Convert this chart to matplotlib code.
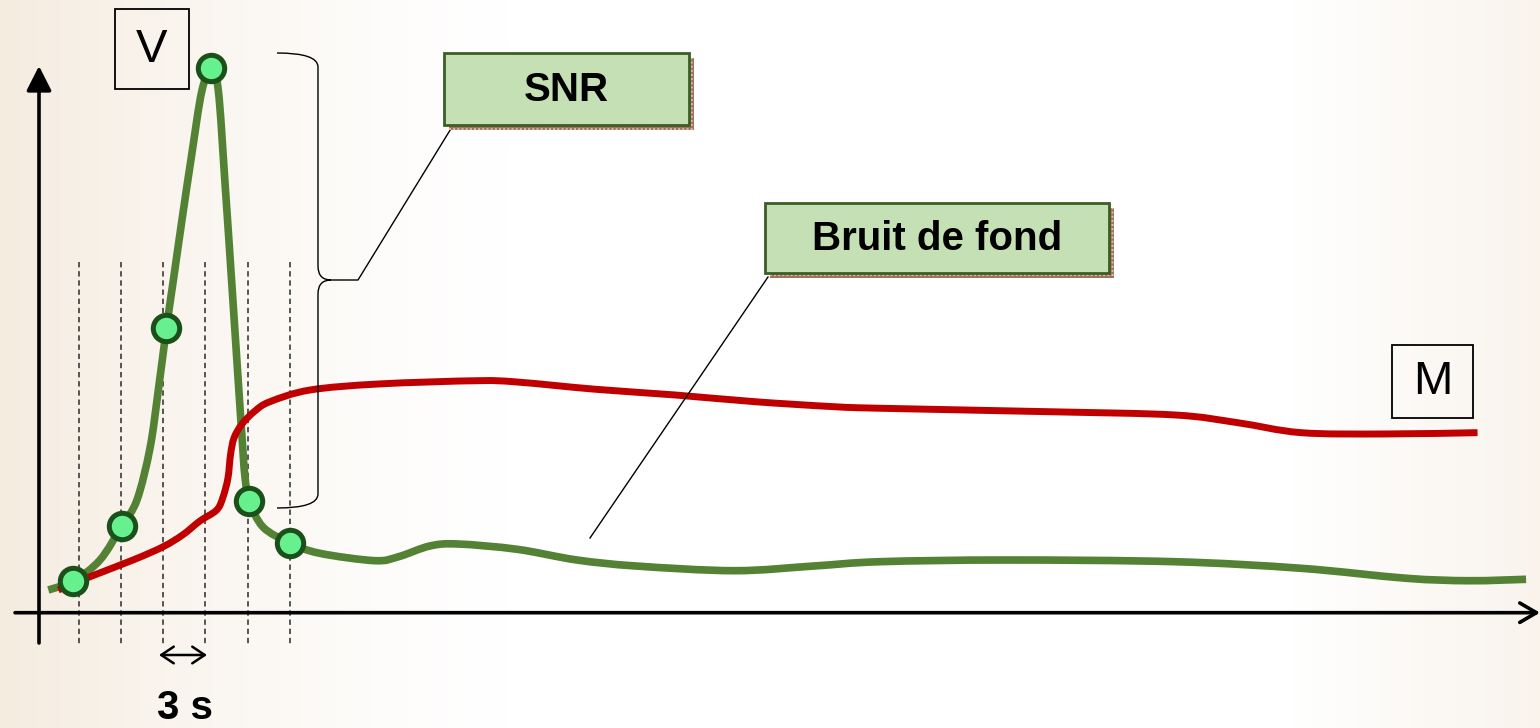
import numpy as np
import matplotlib
matplotlib.use('Agg')
import matplotlib.pyplot as plt
from matplotlib.path import Path
from matplotlib.patches import PathPatch, Rectangle

plt.rcParams['font.family'] = ['Liberation Sans', 'DejaVu Sans']

# Courbe V (vaisseau) : temps en s, amplitude en u.a. (pic = 100)
t_vert = [0.84, 2.62, 4.51, 6.06, 7.14, 8.07, 8.66, 9.24, 9.73, 10.32, 11.03, 11.74,
          12.41, 12.92, 13.40, 13.88, 14.35, 14.59, 14.82, 15.14, 16.10, 18.02, 20.12,
          24.06, 25.74, 27.97, 29.96, 34.16, 38.40, 42.62, 49.63, 55.26, 59.96, 68.92,
          80.91, 89.89, 97.36, 101.83, 105.89]
y_vert = [4.17, 5.82, 9.67, 15.91, 20.69, 30.24, 40.88, 52.27, 61.08, 71.73, 84.04, 95.60,
          100.0, 95.96, 78.89, 60.53, 42.17, 32.99, 24.91, 20.51, 15.73, 12.80, 10.91,
          9.55, 10.28, 12.25, 12.61, 11.64, 9.68, 8.57, 7.71, 8.57, 9.36, 9.67,
          9.36, 8.15, 6.32, 5.87, 6.13]

# Courbe M (myocarde)
t_rouge = [1.55, 3.57, 6.86, 9.01, 10.41, 11.62, 12.81, 13.26, 13.61, 13.79, 14.04, 14.61,
           15.53, 16.60, 19.44, 24.34, 31.36, 34.16, 39.77, 45.39, 51.04, 56.67, 59.96,
           71.90, 80.91, 85.39, 89.89, 95.86, 102.44]
y_rouge = [4.17, 6.37, 9.67, 12.12, 14.32, 16.84, 18.85, 21.24, 24.73, 28.95, 32.07, 34.64,
           37.03, 38.74, 40.88, 41.99, 42.59, 42.35, 41.01, 39.97, 38.74, 37.82, 37.53,
           36.90, 36.30, 34.88, 33.05, 32.81, 33.05]

# points d'acquisition
t_mesure = [2.62, 6.06, 9.24, 12.41, 15.14, 18.02]
y_mesure = [5.82, 15.91, 52.27, 100.0, 20.51, 12.80]
t_coupes = [3, 6, 9, 12, 15, 18]


def courbe(t, y):
    # spline de Catmull-Rom tracee en segments de Bezier
    pts = np.column_stack([t, y])
    n = len(pts)
    verts = [pts[0]]
    codes = [Path.MOVETO]
    for i in range(n - 1):
        p0 = pts[max(i - 1, 0)]
        p1 = pts[i]
        p2 = pts[i + 1]
        p3 = pts[min(i + 2, n - 1)]
        verts += [p1 + (p2 - p0) / 6, p2 - (p3 - p1) / 6, p2]
        codes += [Path.CURVE4] * 3
    return Path(verts, codes)


fig = plt.figure(figsize=(15.4, 7.28), dpi=100)

# fond en degrade
fond = fig.add_axes([0, 0, 1, 1])
fond.set_xlim(0, 1540)
fond.set_ylim(728, 0)
fond.axis('off')
xs = np.linspace(0, 1, 400)
w = np.clip(1 - xs / 0.33, 0, 1) ** 1.4 + np.clip((xs - 0.84) / 0.16, 0, 1) * 0.6
beige = np.array([245, 236, 224]) / 255
img = 1 - w[:, None] * (1 - beige[None, :])
fond.imshow(img[None, :, :], extent=(0, 1540, 728, 0), aspect='auto')

ax = fig.add_axes([0, 0, 1, 1])
ax.set_xlim(-2.595, 106.88)
ax.set_ylim(-21.17, 112.48)
ax.axis('off')
px = fond.transData

# axes
ax.annotate('', xy=(39, 66), xytext=(39, 643), xycoords=px, textcoords=px,
            arrowprops=dict(arrowstyle='-|>,head_length=0.75,head_width=0.38', lw=2.6,
                            color='black', mutation_scale=20, shrinkA=0, shrinkB=0))
ax.annotate('', xy=(1540, 612.7), xytext=(15, 612.7), xycoords=px, textcoords=px,
            arrowprops=dict(arrowstyle='->,head_length=0.6,head_width=0.35', lw=2.6,
                            color='black', mutation_scale=20, shrinkA=0, shrinkB=0))

# coupes
for tc in t_coupes:
    ax.plot([tc, tc], [64.4, -6.2], ls=(0, (3.5, 2.5)), lw=1.1, color='#2a2a2a', zorder=2)

ax.add_patch(PathPatch(courbe(t_vert, y_vert), fill=False, ec='#548235', lw=5.5,
                       capstyle='butt', joinstyle='round', zorder=3))
ax.add_patch(PathPatch(courbe(t_rouge, y_rouge), fill=False, ec='#c00000', lw=5.0,
                       capstyle='butt', joinstyle='round', zorder=4))
ax.plot(t_mesure, y_mesure, 'o', ms=19, mfc='#66f08e', mec='#1b501b', mew=3.6, zorder=5)

# 3 s
ax.annotate('', xy=(207, 655), xytext=(159, 655), xycoords=px, textcoords=px,
            arrowprops=dict(arrowstyle='<->,head_length=0.45,head_width=0.3', lw=1.8,
                            color='black', mutation_scale=20, shrinkA=0, shrinkB=0))
ax.text(185, 708, '3 s', transform=px, fontsize=29, fontweight='bold',
        ha='center', va='center')

# etiquettes V et M
for (x0, y0, x1, y1, lab) in [(115, 9, 189, 89, 'V'), (1392, 345, 1473, 418, 'M')]:
    ax.add_patch(Rectangle((x0, y0), x1 - x0, y1 - y0, transform=px, fill=False,
                           ec='black', lw=1.3, zorder=6))
    ax.text((x0 + x1) / 2, (y0 + y1) / 2 + 1, lab, transform=px, fontsize=34,
            ha='center', va='center', zorder=7)

# accolade SNR
acc = Path([(277, 53), (318, 53), (318, 67), (318, 266), (318, 280), (331, 280),
            (318, 280), (318, 294), (318, 494), (318, 508), (277, 508)],
           [Path.MOVETO, Path.CURVE3, Path.CURVE3, Path.LINETO, Path.CURVE3, Path.CURVE3,
            Path.CURVE3, Path.CURVE3, Path.LINETO, Path.CURVE3, Path.CURVE3])
ax.add_patch(PathPatch(acc, transform=px, fill=False, ec='black', lw=1.0, zorder=6))
ax.plot([331, 358, 452], [280, 280, 127], transform=px, color='black', lw=1.0, zorder=6)
ax.plot([768, 590], [277, 538], transform=px, color='black', lw=1.0, zorder=6)

# boites
plt.rcParams['hatch.linewidth'] = 1.5
for (x0, y0, x1, y1, lab) in [(444, 53, 689, 125, 'SNR'),
                              (765, 203, 1109, 273, 'Bruit de fond')]:
    ax.add_patch(Rectangle((x0 + 5, y0 + 5), x1 - x0, y1 - y0, transform=px,
                           fc='#dcbcae', ec='#a5705c', hatch='++++', lw=0, zorder=6))
    ax.add_patch(Rectangle((x0, y0), x1 - x0, y1 - y0, transform=px, fc='#c5e0b4',
                           ec='#3a5e25', lw=2.0, zorder=7))
    ax.text((x0 + x1) / 2, (y0 + y1) / 2 + 1, lab, transform=px, fontsize=29,
            fontweight='bold', ha='center', va='center', zorder=8)

fig.savefig('out.png', dpi=100)
